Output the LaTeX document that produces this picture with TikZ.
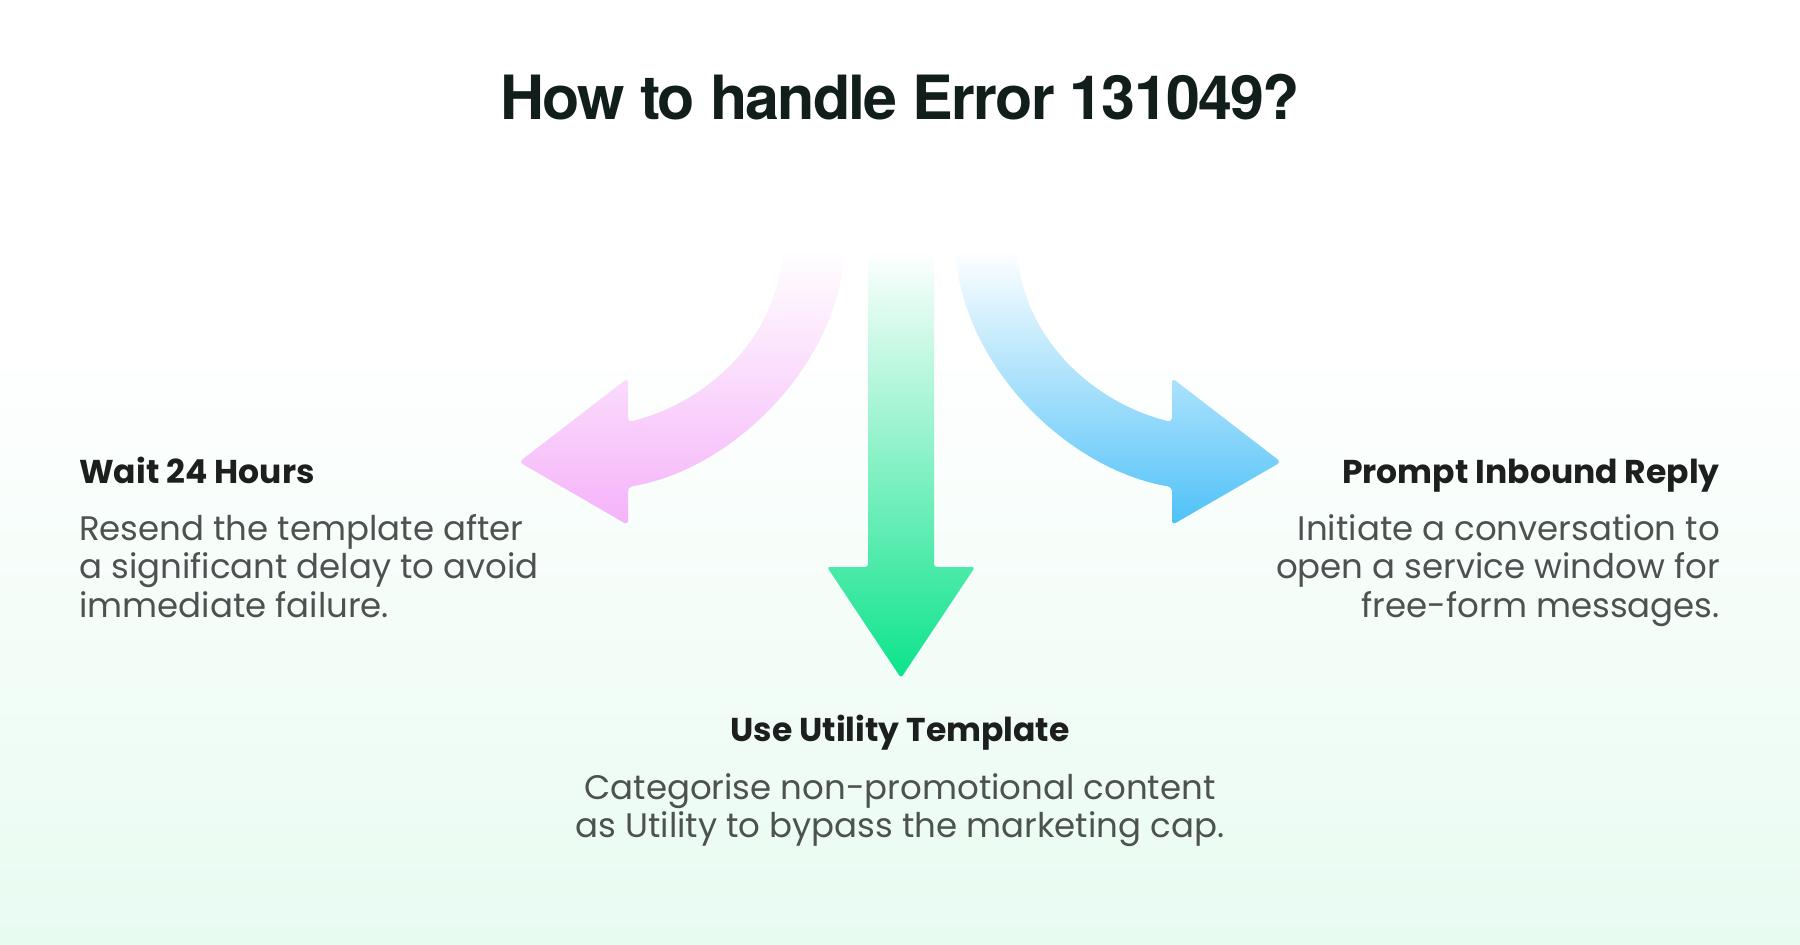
\documentclass[tikz,border=0pt]{standalone}
\usepackage{fontspec}
\setmainfont{Poppins}
\newfontfamily\titlefont[LetterSpace=-3]{TeX Gyre Heros}
\usetikzlibrary{positioning}
\definecolor{ink}{HTML}{121E1B}
\definecolor{headink}{HTML}{1C1F1E}
\definecolor{bodyink}{HTML}{4D5250}
\definecolor{mint}{HTML}{E8FBF1}
\definecolor{pinkarr}{HTML}{F5B2F9}
\definecolor{bluearr}{HTML}{4EC1F8}
\definecolor{greenarr}{HTML}{0CE38B}
\tikzset{
  heading/.style={inner sep=0pt,text=headink,font=\bfseries\fontsize{33}{40}\selectfont},
  desc/.style={inner sep=0pt,text=bodyink,font=\fontsize{34}{38.5}\selectfont},
}
\begin{document}
\begin{tikzpicture}[x=1pt,y=-1pt]
\useasboundingbox (0,0) rectangle (1800,945);
\fill[white] (0,0) rectangle (1800,330);
\shade[top color=white,bottom color=mint] (0,330) rectangle (1800,945);

\shade[top color=white,middle color=pinkarr!35,bottom color=pinkarr,rounded corners=4]
  (628,422) .. controls (700,405) and (775,345) .. (783,250) -- (845,250)
  .. controls (835,370) and (730,470) .. (628,487) -- (628,525) -- (519,462) -- (628,378) -- cycle;
\shade[top color=white,middle color=bluearr!35,bottom color=bluearr,rounded corners=4]
  (1172,422) .. controls (1100,405) and (1025,345) .. (1017,250) -- (955,250)
  .. controls (965,370) and (1070,470) .. (1172,487) -- (1172,525) -- (1281,462) -- (1172,378) -- cycle;
\shade[top color=white,middle color=greenarr!45,bottom color=greenarr,rounded corners=3]
  (868,250) -- (868,567) -- (827,567) -- (901,678) -- (975,567) -- (934,567) -- (934,250) -- cycle;

\node[font=\titlefont\bfseries\fontsize{61}{70}\selectfont,text=ink,anchor=base,inner sep=0pt] (title) at (900,119) {How to handle Error 131049?};

\node[heading,anchor=base west] (wait) at (79,483) {Wait 24 Hours};
\node[desc,align=left,below right=31pt and 0pt of wait.base west] (waittext) {Resend the template after\\a significant delay to avoid\\immediate failure.};

\node[heading,anchor=base east] (prompt) at (1720,483) {Prompt Inbound Reply};
\node[desc,align=right,below left=31pt and 0pt of prompt.base east] (prompttext) {Initiate a conversation to\\open a service window for\\free-form messages.};

\node[heading,anchor=base] (utility) at (900,741) {Use Utility Template};
\node[desc,align=center,below=32pt of utility.base] (utilitytext) {Categorise non-promotional content\\as Utility to bypass the marketing cap.};
\end{tikzpicture}
\end{document}
